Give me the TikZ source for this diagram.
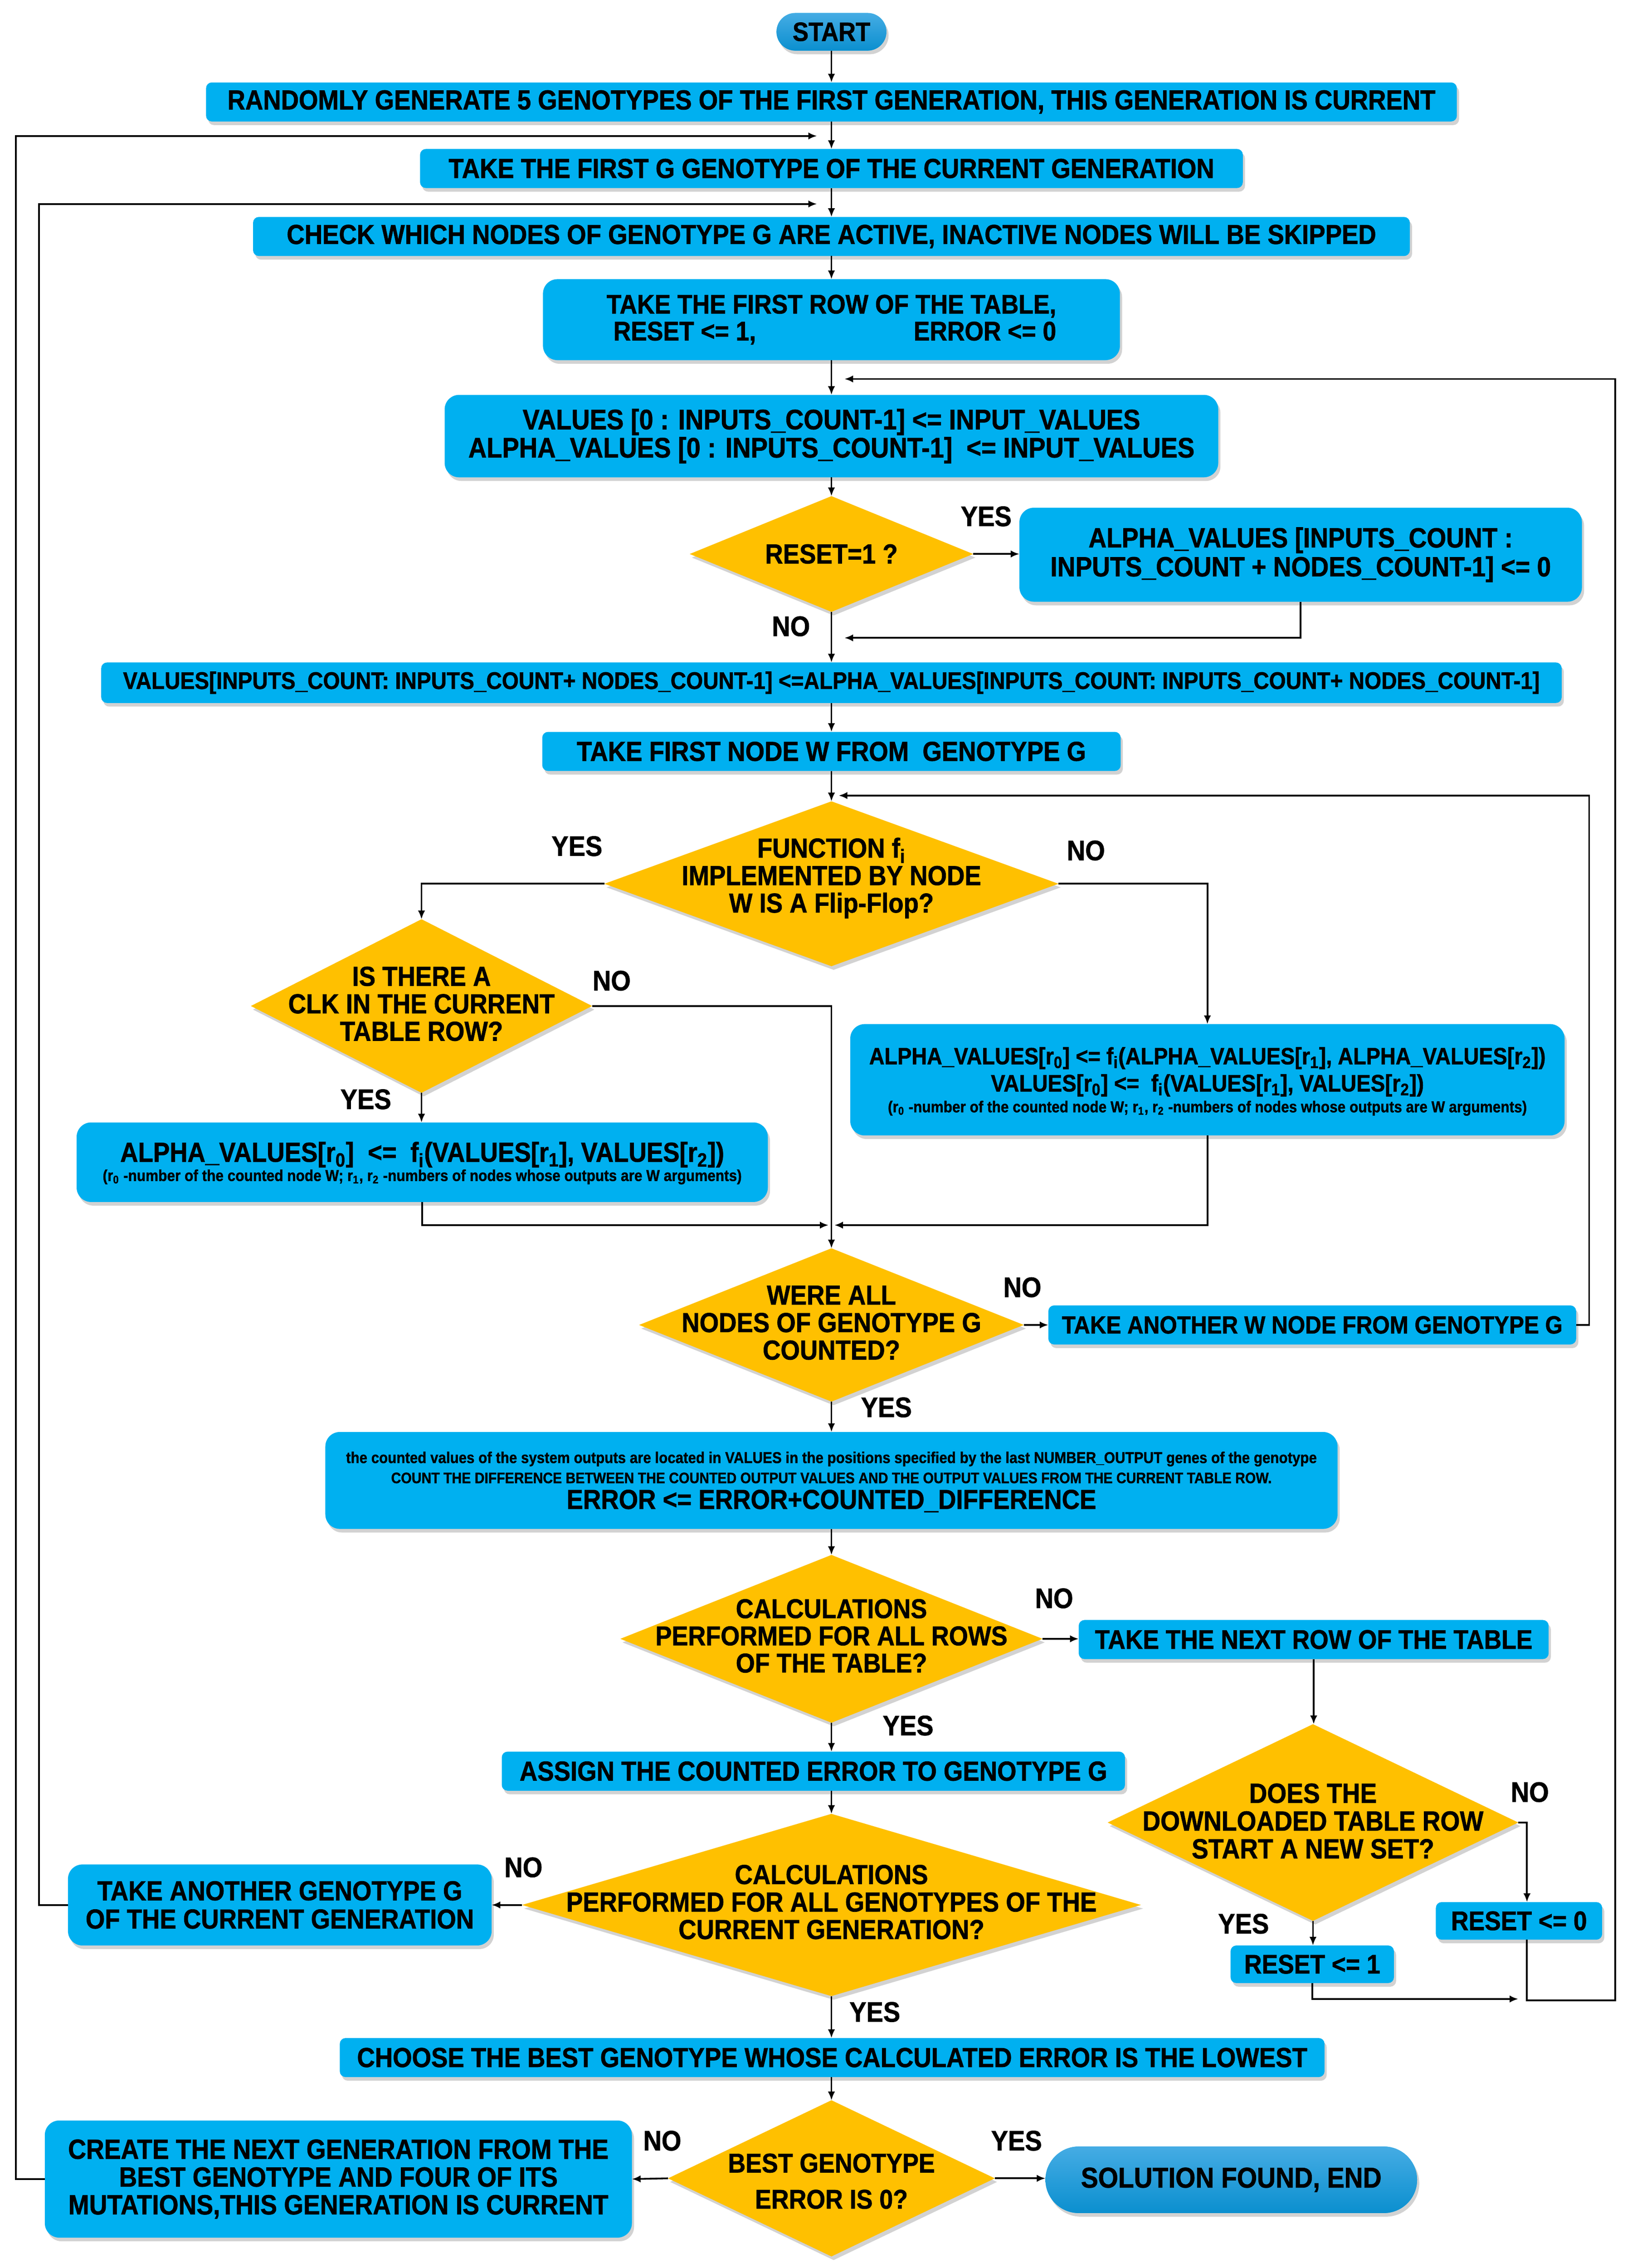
\documentclass[tikz,border=0pt]{standalone}
\usepackage{fontspec}
\setmainfont{Liberation Sans}[FakeStretch=0.9,BoldFeatures={FakeBold=1.2}]
\usetikzlibrary{shapes.geometric,shadows,arrows.meta}
\definecolor{bx}{HTML}{00B0F0}
\definecolor{yl}{HTML}{FFC000}
\definecolor{ptop}{HTML}{45ACE4}
\definecolor{pbot}{HTML}{0B8FCF}
\newcommand\myfs[1]{\bfseries\fontsize{#1}{#1}\selectfont}
\newlength\rowlen
\tikzset{
 shad/.style={drop shadow={shadow xshift=1.5pt,shadow yshift=-2.5pt,opacity=0.35}},
 box/.style={rectangle,rounded corners=4pt,fill=bx,shad,align=center,inner sep=0pt,outer sep=0pt,font=\myfs{19}},
 bigbox/.style={box,rounded corners=10pt},
 pill/.style={box,top color=ptop,bottom color=pbot},
 dia/.style={diamond,fill=yl,shad,inner sep=0pt,outer sep=0pt},
 dtxt/.style={align=center,inner sep=0pt,font=\myfs{19}},
 btxt/.style={inner sep=0pt,anchor=base},
 lbl/.style={inner sep=0pt,font=\myfs{19.5}},
 arr/.style={draw,line width=1.2pt,-{Latex[length=6pt,width=5pt]}},
}
\begin{document}
\begin{tikzpicture}[x=1pt,y=-1pt]
\useasboundingbox[fill=white] (0,0) rectangle (1131.8,1568);
% ---------- nodes ----------
\node[pill,rounded corners=13pt,minimum width=76pt,minimum height=26pt,font=\myfs{18.3}] (start) at (575,22) {START};
\node[box,minimum width=865pt,minimum height=27pt] (gen) at (575,70.5) {RANDOMLY GENERATE 5 GENOTYPES OF THE FIRST GENERATION, THIS GENERATION IS CURRENT};
\node[box,minimum width=569pt,minimum height=27pt] (first) at (575,116.5) {TAKE THE FIRST G GENOTYPE OF THE CURRENT GENERATION};
\node[box,minimum width=800pt,minimum height=27pt] (check) at (575,163.5) {CHECK WHICH NODES OF GENOTYPE G ARE ACTIVE, INACTIVE NODES WILL BE SKIPPED};
\node[bigbox,minimum width=399pt,minimum height=56pt,font=\myfs{18.6}] (row) at (575,221) {TAKE THE FIRST ROW OF THE TABLE,\\ \settowidth{\rowlen}{TAKE THE FIRST ROW OF THE TABLE,}\makebox[\rowlen]{~RESET <= 1,\hfill ERROR <= 0}};
\node[bigbox,minimum width=535pt,minimum height=57pt,font=\myfs{19.5}] (vals) at (575,301.5) {VALUES [0 : INPUTS\_COUNT-1] <= INPUT\_VALUES\\ALPHA\_VALUES [0 : INPUTS\_COUNT-1]~ <= INPUT\_VALUES};
\node[dia,minimum width=196pt,minimum height=80pt] (d1) at (575,383) {};
\node[dtxt] (d1t) at (d1) {RESET=1 ?};
\node[bigbox,minimum width=389pt,minimum height=65pt,font=\bfseries\fontsize{19.2}{20}\selectfont] (alpha0) at (899.5,383.5) {ALPHA\_VALUES [INPUTS\_COUNT :\\INPUTS\_COUNT + NODES\_COUNT-1] <= 0};
\node[box,minimum width=1010pt,minimum height=28pt,font=\myfs{16.6}] (vcopy) at (575,472) {VALUES[INPUTS\_COUNT: INPUTS\_COUNT+ NODES\_COUNT-1] <=ALPHA\_VALUES[INPUTS\_COUNT: INPUTS\_COUNT+ NODES\_COUNT-1]};
\node[box,minimum width=400pt,minimum height=27pt] (firstw) at (575,519.5) {TAKE FIRST NODE W FROM \ GENOTYPE G};
\node[dia,minimum width=314pt,minimum height=114pt] (ff) at (575,611) {};
\node[dtxt] (fft) at (575,607) {FUNCTION f\textsubscript{i}\\IMPLEMENTED BY NODE\\W IS A Flip-Flop?};
\node[dia,minimum width=236pt,minimum height=120pt] (clk) at (291.5,695.5) {};
\node[dtxt] (clkt) at (291.5,694) {IS THERE A\\CLK IN THE CURRENT\\TABLE ROW?};
\node[bigbox,minimum width=478pt,minimum height=55pt] (alr) at (292,803.5) {};
\node[btxt,font=\myfs{19}] (alr1) at (292,803.2) {ALPHA\_VALUES[r\textsubscript{0}]~ <=~ f\textsubscript{i}(VALUES[r\textsubscript{1}], VALUES[r\textsubscript{2}])};
\node[btxt,font=\myfs{11}] (alr2) at (292,816.5) {(r\textsubscript{0} -number of the counted node W; r\textsubscript{1}, r\textsubscript{2} -numbers of nodes whose outputs are W arguments)};
\node[bigbox,minimum width=494pt,minimum height=77pt] (alrr) at (835,746.5) {};
\node[btxt,font=\myfs{16.3}] (alrr1) at (835,735.8) {ALPHA\_VALUES[r\textsubscript{0}] <= f\textsubscript{i}(ALPHA\_VALUES[r\textsubscript{1}], ALPHA\_VALUES[r\textsubscript{2}])};
\node[btxt,font=\myfs{16.5}] (alrr2) at (835,754.6) {VALUES[r\textsubscript{0}] <=~ f\textsubscript{i}(VALUES[r\textsubscript{1}], VALUES[r\textsubscript{2}])};
\node[btxt,font=\myfs{11}] (alrr3) at (835,769) {(r\textsubscript{0} -number of the counted node W; r\textsubscript{1}, r\textsubscript{2} -numbers of nodes whose outputs are W arguments)};
\node[dia,minimum width=266pt,minimum height=106pt] (were) at (575,916) {};
\node[dtxt] (weret) at (575,914.5) {WERE ALL\\NODES OF GENOTYPE G\\COUNTED?};
\node[box,minimum width=365pt,minimum height=27pt,font=\myfs{17.2}] (anotherw) at (907.5,916) {TAKE ANOTHER W NODE FROM GENOTYPE G};
\node[bigbox,minimum width=700pt,minimum height=67pt] (count) at (575,1023.5) {};
\node[btxt,font=\myfs{10.9}] (count1) at (575,1011.5) {the counted values of the system outputs are located in VALUES in the positions specified by the last NUMBER\_OUTPUT genes of the genotype};
\node[btxt,font=\myfs{10.5}] (count2) at (575,1025.4) {COUNT THE DIFFERENCE BETWEEN THE COUNTED OUTPUT VALUES AND THE OUTPUT VALUES FROM THE CURRENT TABLE ROW.};
\node[btxt,font=\myfs{19}] (count3) at (575,1043.2) {ERROR <= ERROR+COUNTED\_DIFFERENCE};
\node[dia,minimum width=292pt,minimum height=116pt] (rows) at (575,1133) {};
\node[dtxt,font=\myfs{18.8}] (rowst) at (575,1131) {CALCULATIONS\\PERFORMED FOR ALL ROWS\\OF THE TABLE?};
\node[box,minimum width=325pt,minimum height=27pt,font=\myfs{18.6}] (nextrow) at (908.5,1133.5) {TAKE THE NEXT ROW OF THE TABLE};
\node[dia,minimum width=284pt,minimum height=136pt] (newset) at (908,1260) {};
\node[dtxt,font=\myfs{19.2}] (newsett) at (908,1259) {DOES THE\\DOWNLOADED TABLE ROW\\START A NEW SET?};
\node[box,minimum width=115pt,minimum height=26pt,font=\myfs{18.6}] (reset0) at (1050.5,1328) {RESET <= 0};
\node[box,minimum width=113pt,minimum height=26pt,font=\myfs{18.6}] (reset1) at (907.5,1358) {RESET <= 1};
\node[box,minimum width=431pt,minimum height=27pt,font=\myfs{19}] (assign) at (562.5,1224.5) {ASSIGN THE COUNTED ERROR TO GENOTYPE G};
\node[dia,minimum width=428pt,minimum height=126pt] (gens) at (575,1317) {};
\node[dtxt] (genst) at (575,1315) {CALCULATIONS\\PERFORMED FOR ALL GENOTYPES OF THE\\CURRENT GENERATION?};
\node[bigbox,minimum width=293pt,minimum height=56pt,font=\bfseries\fontsize{19}{19.5}\selectfont] (anotherg) at (193.5,1317) {TAKE ANOTHER GENOTYPE G\\OF THE CURRENT GENERATION};
\node[box,minimum width=681pt,minimum height=27pt] (choose) at (575.5,1422.5) {CHOOSE THE BEST GENOTYPE WHOSE CALCULATED ERROR IS THE LOWEST};
\node[dia,minimum width=226pt,minimum height=108pt] (best) at (575,1506) {};
\node[dtxt,font=\bfseries\fontsize{18.7}{25}\selectfont] (bestt) at (575,1508) {BEST GENOTYPE\\ERROR IS 0?};
\node[bigbox,minimum width=406pt,minimum height=81pt,font=\myfs{19.2}] (create) at (234,1506.5) {CREATE THE NEXT GENERATION FROM THE\\BEST GENOTYPE AND FOUR OF ITS\\MUTATIONS,THIS GENERATION IS CURRENT};
\node[pill,rounded corners=23pt,minimum width=257pt,minimum height=46pt,font=\myfs{19.8}] (sol) at (851.5,1507) {SOLUTION FOUND, END};
% ---------- labels ----------
\node[lbl] (y1) at (682,357) {YES};
\node[lbl] (n1) at (547,433) {NO};
\node[lbl] (y2) at (399,585) {YES};
\node[lbl] (n2) at (751,588) {NO};
\node[lbl] (n3) at (423,678) {NO};
\node[lbl] (y3) at (253,760) {YES};
\node[lbl] (n4) at (707,890) {NO};
\node[lbl] (y4) at (613,973) {YES};
\node[lbl] (n5) at (729,1105) {NO};
\node[lbl] (y5) at (628,1193) {YES};
\node[lbl] (n6) at (1058,1239) {NO};
\node[lbl] (y6) at (860,1330) {YES};
\node[lbl] (n7) at (362,1291) {NO};
\node[lbl] (y7) at (605,1391) {YES};
\node[lbl] (n8) at (458,1480) {NO};
\node[lbl] (y8) at (703,1480) {YES};
% ---------- helper coordinates ----------
\coordinate (lA) at (11,94);   \coordinate (jA) at (565,94);
\coordinate (lB) at (27,141);  \coordinate (jB) at (565,141);
\coordinate (rC) at (1117,262); \coordinate (jC) at (584,262);
\coordinate (jD) at (584,441);
\coordinate (rE) at (1099,550); \coordinate (jE) at (580,550);
\coordinate (mL) at (573,847); \coordinate (mR) at (577,847);
\coordinate (nR) at (1056,1260);
\coordinate (r0b) at (1056,1383);
\coordinate (m1) at (1050,1382);
% ---------- connectors ----------
\draw[arr] (start.south) -- (start.south |- gen.north);
\draw[arr] (gen.south) -- (gen.south |- first.north);
\draw[arr] (first.south) -- (first.south |- check.north);
\draw[arr] (check.south) -- (check.south |- row.north);
\draw[arr] (row.south) -- (row.south |- vals.north);
\draw[arr] (vals.south) -- (d1.north);
\draw[arr] (d1.east) -- (d1.east -| alpha0.west);
\draw[arr] (alpha0.south) |- (jD);
\draw[arr] (d1.south) -- (d1.south |- vcopy.north);
\draw[arr] (vcopy.south) -- (vcopy.south |- firstw.north);
\draw[arr] (firstw.south) -- (ff.north);
\draw[arr] (ff.west) -| (clk.north);
\draw[arr] (ff.east) -| (alrr.north);
\draw[arr] (clk.east) -| (were.north);
\draw[arr] (clk.south) -- (clk.south |- alr.north);
\draw[arr] (alr.south) |- (mL);
\draw[arr] (alrr.south) |- (mR);
\draw[arr] (were.east) -- (anotherw.west);
\draw[arr] (anotherw.east) -| (rE) -- (jE);
\draw[arr] (were.south) -- (were.south |- count.north);
\draw[arr] (count.south) -- (rows.north);
\draw[arr] (rows.east) -- (rows.east -| nextrow.west);
\draw[arr] (nextrow.south) -- (nextrow.south |- newset.north);
\draw[arr] (newset.east) -- (nR) -- (nR |- reset0.north);
\draw[arr] (newset.south) -- (newset.south |- reset1.north);
\draw[arr] (reset1.south) |- (m1);
\draw[arr] (r0b |- reset0.south) -- (r0b) -| (rC) -- (jC);
\draw[arr] (rows.south) -- (rows.south |- assign.north);
\draw[arr] (gens.north |- assign.south) -- (gens.north);
\draw[arr] (gens.west) -- (anotherg.east);
\draw[arr] (anotherg.west) -| (lB) -- (jB);
\draw[arr] (gens.south) -- (gens.south |- choose.north);
\draw[arr] (best.north |- choose.south) -- (best.north);
\draw[arr] (best.west) -- (create.east);
\draw[arr] (best.east) -- (best.east -| sol.west);
\draw[arr] (create.west) -| (lA) -- (jA);
\end{tikzpicture}
\end{document}
